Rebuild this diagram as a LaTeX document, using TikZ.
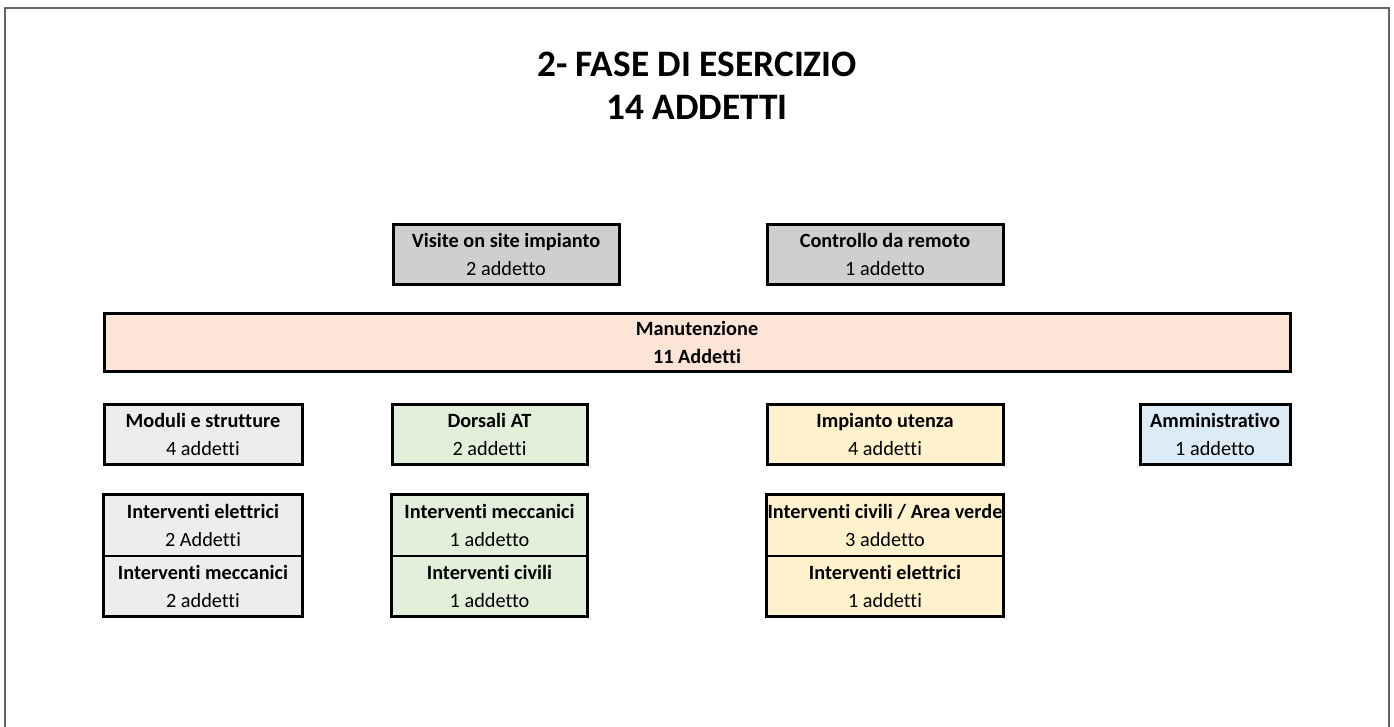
\documentclass[tikz,border=0pt]{standalone}
\usepackage{fontspec}
\setmainfont{Carlito}[Ligatures=NoCommon]
\usepackage{xcolor}
\usepackage{tikz}
\usetikzlibrary{positioning}
\definecolor{boxgray}{HTML}{D0CECE}
\definecolor{lightgray}{HTML}{EDEDED}
\definecolor{lightgreen}{HTML}{E2EFDA}
\definecolor{lightyellow}{HTML}{FFF2CC}
\definecolor{lightblue}{HTML}{DDEBF7}
\definecolor{peach}{HTML}{FCE4D6}
\tikzstyle{cell} = [rectangle, draw=black, line width=2.25pt, minimum height=45pt, inner sep=0pt, align=center, font=\fontsize{15.2}{21}\selectfont]
\tikzstyle{half} = [rectangle, draw=black, line width=0.75pt, minimum height=45pt, inner sep=0pt, align=center, font=\fontsize{15.2}{21}\selectfont]
\tikzstyle{outline} = [draw=black, line width=2.25pt]

\begin{document}
\begin{tikzpicture}[x=0.75pt, y=-0.75pt, node distance=0pt]
        \useasboundingbox (0,0) rectangle (1394,726);
        % frame
        \draw[gray!80!black, line width=1.6pt] (5,730) -- (5,8) -- (1389,8) -- (1389,730);

        % title
        \node (title) at (697,86) [align=center, font=\fontsize{28}{32}\selectfont\bfseries] {2- FASE DI ESERCIZIO\\14 ADDETTI};

        \node (visite) at (506,254) [cell, fill=boxgray, minimum width=169.5pt] {\textbf{Visite on site impianto}\\2 addetto};
        \node (remoto) at (885,254) [cell, fill=boxgray, minimum width=177pt] {\textbf{Controllo da remoto}\\1 addetto};

        \node (manut) at (697,342) [cell, fill=peach, minimum width=889.5pt, minimum height=43.5pt] {\textbf{Manutenzione}\\\textbf{11 Addetti}};

        \node (moduli) at (203,434) [cell, fill=lightgray, minimum width=148.5pt] {\textbf{Moduli e strutture}\\4 addetti};
        \node (dorsali) at (489.5,434) [cell, fill=lightgreen, minimum width=146.25pt] {\textbf{Dorsali AT}\\2 addetti};
        \node (utenza) at (885,434) [cell, fill=lightyellow, minimum width=177pt] {\textbf{Impianto utenza}\\4 addetti};
        \node (ammin) at (1215,434) [cell, fill=lightblue, minimum width=112.5pt] {\textbf{Amministrativo}\\1 addetto};

        % stacked cells
        \node (modEl) at (203,525) [half, fill=lightgray, minimum width=148.5pt] {\textbf{Interventi elettrici}\\2 Addetti};
        \node (modMec) [half, fill=lightgray, minimum width=148.5pt, below=of modEl] {\textbf{Interventi meccanici}\\2 addetti};
        \draw[outline] (modEl.north west) rectangle (modMec.south east);

        \node (dorMec) at (489.5,525) [half, fill=lightgreen, minimum width=146.25pt] {\textbf{Interventi meccanici}\\1 addetto};
        \node (dorCiv) [half, fill=lightgreen, minimum width=146.25pt, below=of dorMec] {\textbf{Interventi civili}\\1 addetto};
        \draw[outline] (dorMec.north west) rectangle (dorCiv.south east);

        \node (utCiv) at (885,525) [half, fill=lightyellow, minimum width=177pt] {\textbf{Interventi civili / Area verde}\\3 addetto};
        \node (utEl) [half, fill=lightyellow, minimum width=177pt, below=of utCiv] {\textbf{Interventi elettrici}\\1 addetti};
        \draw[outline] (utCiv.north west) rectangle (utEl.south east);
    \end{tikzpicture}
\end{document}
